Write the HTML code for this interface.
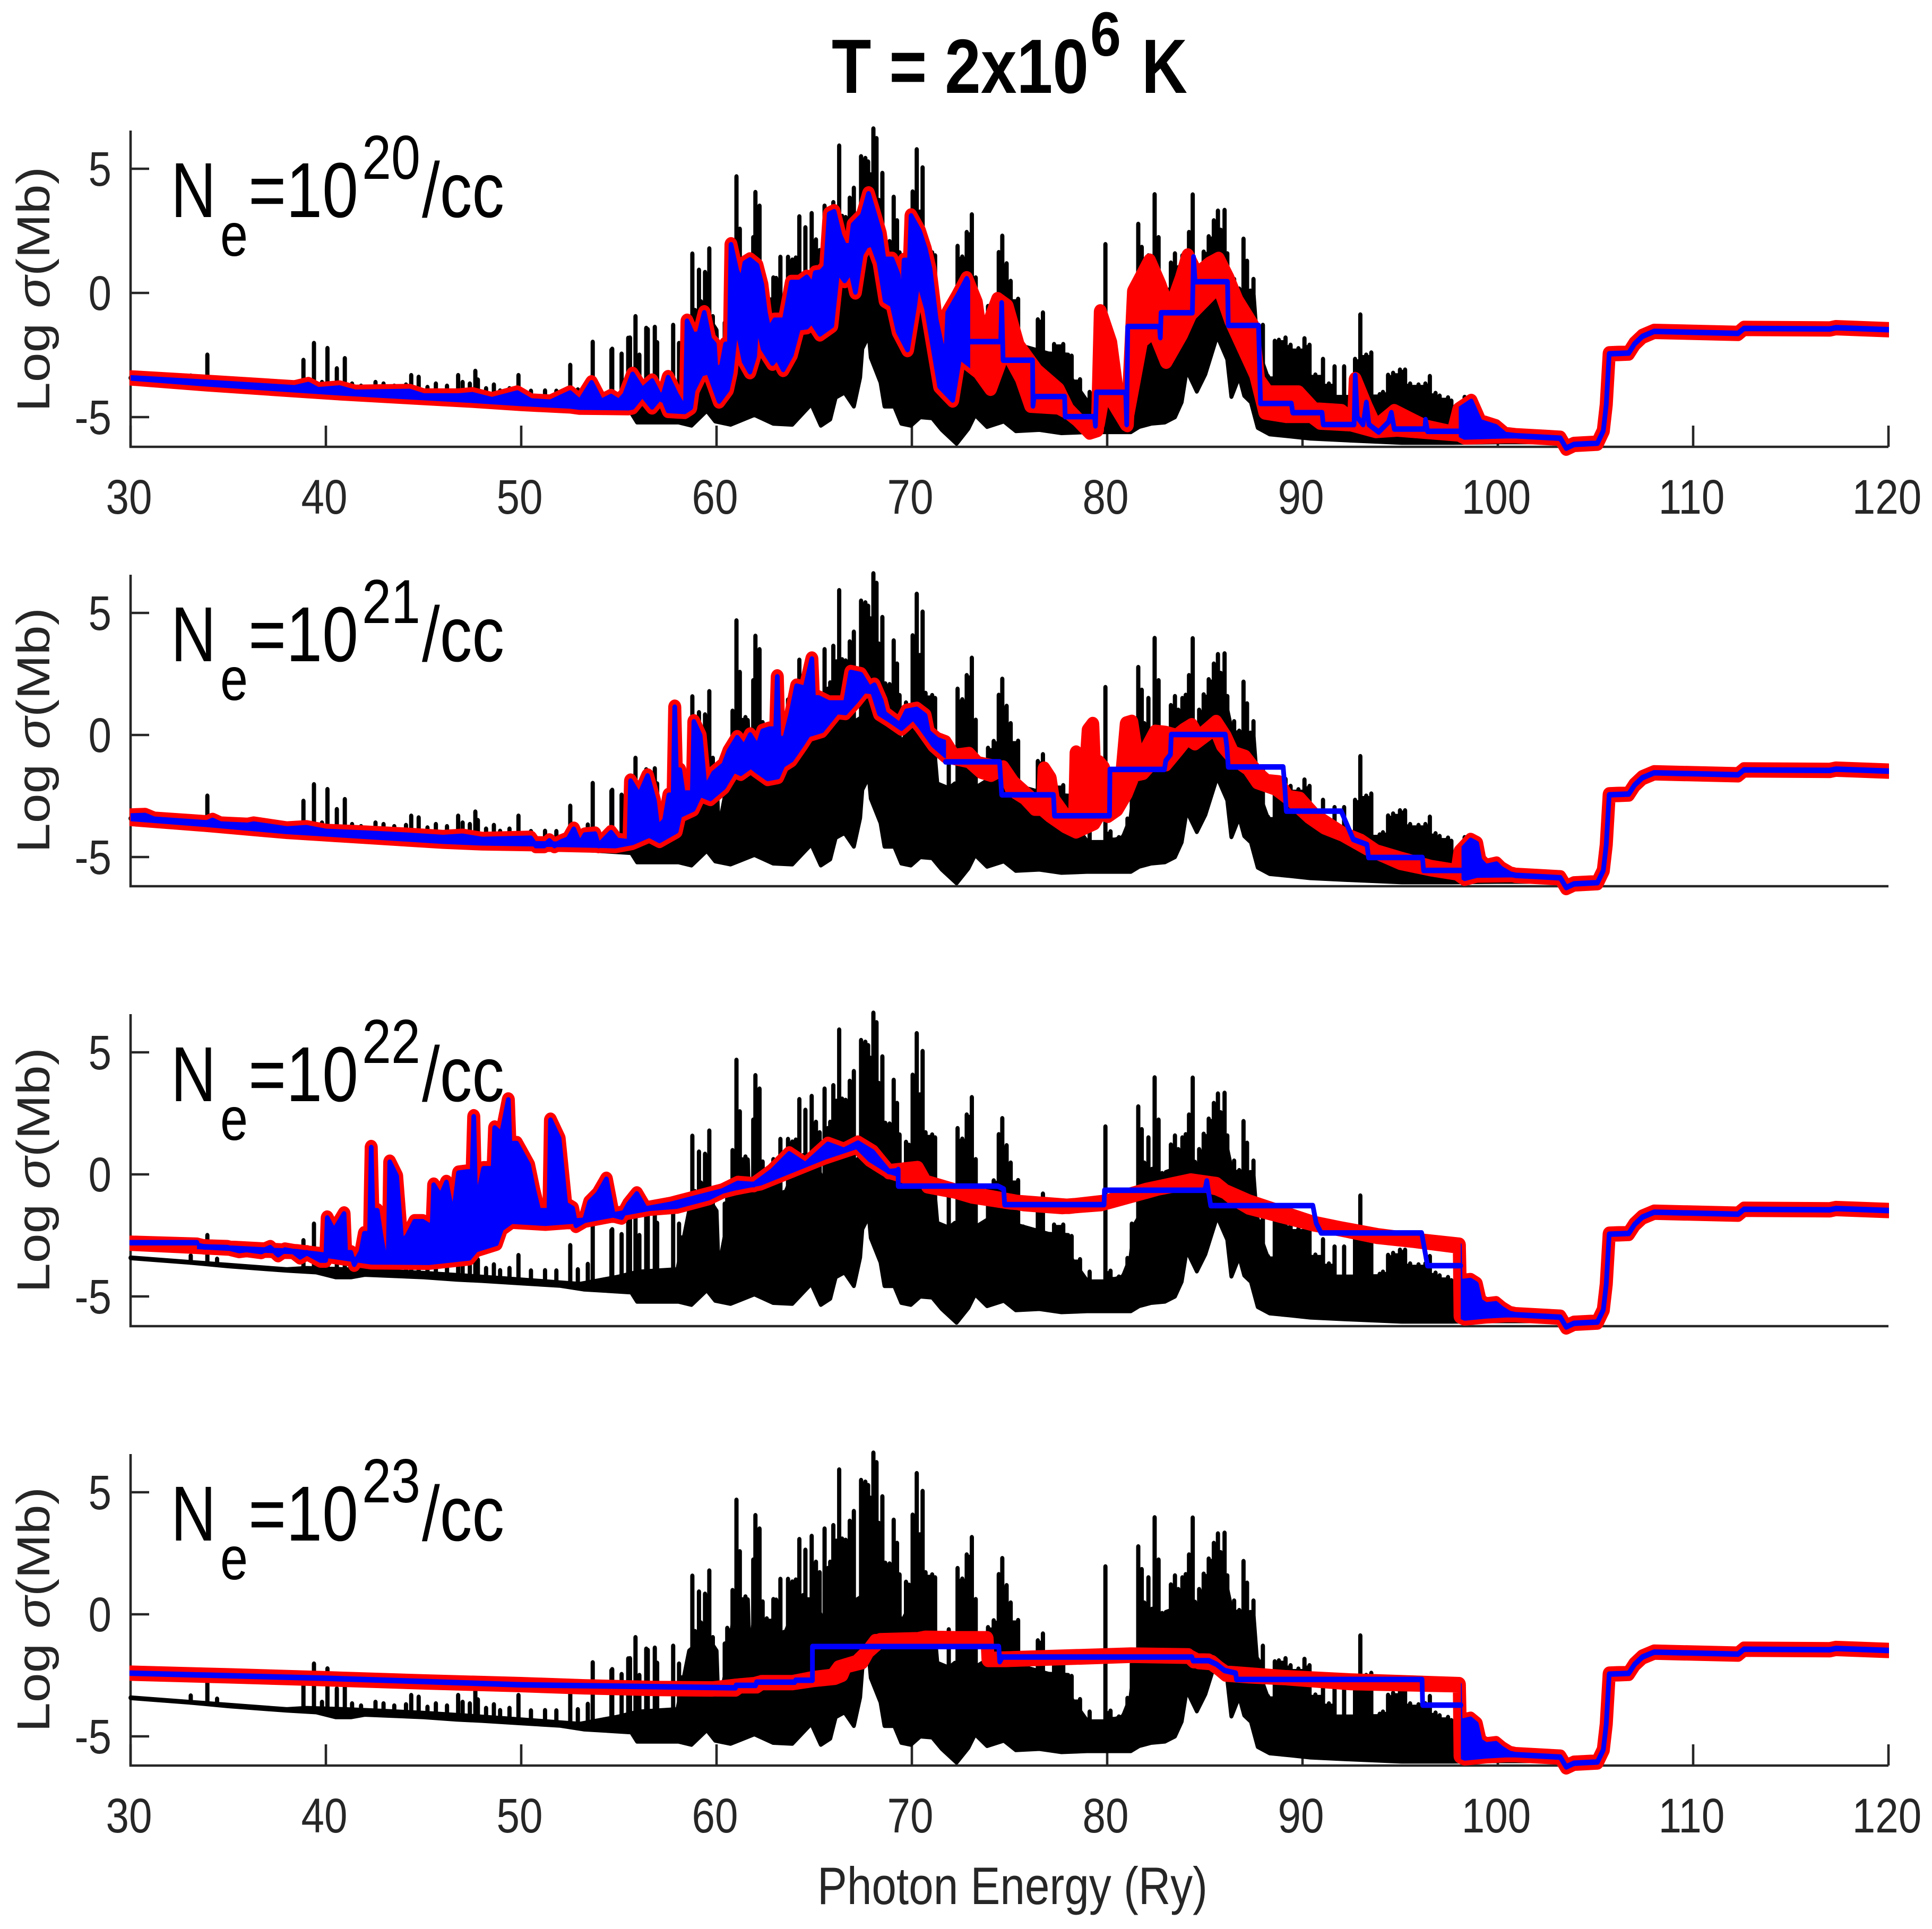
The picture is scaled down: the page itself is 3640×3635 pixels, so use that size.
<!DOCTYPE html>
<html lang="en">
<head>
<meta charset="utf-8">
<title>T = 2x10^6 K opacity spectra</title>
<style>
html,body{margin:0;padding:0;background:#fff;}
svg{display:block;font-family:"Liberation Sans",sans-serif;}
.ann{fill:#000;}
.tick{fill:#262626;font-size:92px;}
.ylab{fill:#262626;font-size:87px;}
</style>
</head>
<body>
<svg id="chart" xmlns="http://www.w3.org/2000/svg" width="3640" height="3635" viewBox="0 0 3640 3635">
<rect width="3640" height="3635" fill="#fff"/>
<g id="plots"></g>
<g font-weight="bold" fill="#000">
<text x="1567" y="175" font-size="145" textLength="484" lengthAdjust="spacingAndGlyphs">T = 2x10</text>
<text x="2054" y="105" font-size="118" textLength="58" lengthAdjust="spacingAndGlyphs">6</text>
<text x="2151" y="175" font-size="145" textLength="86" lengthAdjust="spacingAndGlyphs">K</text>
</g>
<g class="ann">
<text x="322" y="409" font-size="147" textLength="85" lengthAdjust="spacingAndGlyphs">N</text><text x="415" y="482" font-size="115" textLength="52" lengthAdjust="spacingAndGlyphs">e</text><text x="468" y="409" font-size="147" textLength="207" lengthAdjust="spacingAndGlyphs">=10</text><text x="682" y="337" font-size="117" textLength="110" lengthAdjust="spacingAndGlyphs">20</text><text x="795" y="409" font-size="147" textLength="155" lengthAdjust="spacingAndGlyphs">/cc</text>
</g>
<g class="ann">
<text x="322" y="1246" font-size="147" textLength="85" lengthAdjust="spacingAndGlyphs">N</text><text x="415" y="1319" font-size="115" textLength="52" lengthAdjust="spacingAndGlyphs">e</text><text x="468" y="1246" font-size="147" textLength="207" lengthAdjust="spacingAndGlyphs">=10</text><text x="682" y="1174" font-size="117" textLength="110" lengthAdjust="spacingAndGlyphs">21</text><text x="795" y="1246" font-size="147" textLength="155" lengthAdjust="spacingAndGlyphs">/cc</text>
</g>
<g class="ann">
<text x="322" y="2075" font-size="147" textLength="85" lengthAdjust="spacingAndGlyphs">N</text><text x="415" y="2148" font-size="115" textLength="52" lengthAdjust="spacingAndGlyphs">e</text><text x="468" y="2075" font-size="147" textLength="207" lengthAdjust="spacingAndGlyphs">=10</text><text x="682" y="2003" font-size="117" textLength="110" lengthAdjust="spacingAndGlyphs">22</text><text x="795" y="2075" font-size="147" textLength="155" lengthAdjust="spacingAndGlyphs">/cc</text>
</g>
<g class="ann">
<text x="322" y="2903" font-size="147" textLength="85" lengthAdjust="spacingAndGlyphs">N</text><text x="415" y="2976" font-size="115" textLength="52" lengthAdjust="spacingAndGlyphs">e</text><text x="468" y="2903" font-size="147" textLength="207" lengthAdjust="spacingAndGlyphs">=10</text><text x="682" y="2831" font-size="117" textLength="110" lengthAdjust="spacingAndGlyphs">23</text><text x="795" y="2903" font-size="147" textLength="155" lengthAdjust="spacingAndGlyphs">/cc</text>
</g>
<text x="1540" y="3588" font-size="99" fill="#262626" textLength="735" lengthAdjust="spacingAndGlyphs">Photon Energy (Ry)</text>
<g class="ylab"><text transform="translate(93,776) rotate(-90)" textLength="462" lengthAdjust="spacingAndGlyphs">Log <tspan font-style="italic">σ</tspan>(Mb)</text></g>
<g class="ylab"><text transform="translate(93,1607) rotate(-90)" textLength="462" lengthAdjust="spacingAndGlyphs">Log <tspan font-style="italic">σ</tspan>(Mb)</text></g>
<g class="ylab"><text transform="translate(93,2436) rotate(-90)" textLength="462" lengthAdjust="spacingAndGlyphs">Log <tspan font-style="italic">σ</tspan>(Mb)</text></g>
<g class="ylab"><text transform="translate(93,3264) rotate(-90)" textLength="462" lengthAdjust="spacingAndGlyphs">Log <tspan font-style="italic">σ</tspan>(Mb)</text></g>
</svg>
<script>
// ---- axis tick values ----
const energyTicks = [30,40,50,60,70,80,90,100,110,120];
const logTicks = [5,0,-5];

// ---- shared black spectrum: spike peaks ----
const spikeE = [33.08,33.93,34.43,38.85,39.39,39.8,40.08,40.56,40.97,41.34,41.8,42.54,42.95,43.5,44.1,44.37,44.75,45.2,45.63,46.2,46.77,47,47.37,47.65,47.78,48.2,48.6,48.92,49.4,49.86,50.5,51.22,51.8,52.51,52.9,53.41,53.66,54.62,54.66,55.14,55.48,55.57,55.85,56.05,56.4,56.48,56.84,56.96,57.78,58.08,58.54,58.76,58.9,59.1,59.2,59.41,59.63,59.81,59.93,60.42,60.55,60.82,61.02,61.19,61.31,61.48,61.7,61.88,61.99,62.2,62.36,62.57,62.91,63.05,63.27,63.45,63.66,63.88,64.06,64.24,64.43,64.55,64.67,64.87,65.09,65.28,65.4,65.53,65.7,65.82,65.98,66.13,66.28,66.43,66.61,66.82,67.03,67.16,67.4,67.62,67.76,67.88,68.03,68.19,68.31,68.49,68.64,68.86,69.07,69.24,69.37,69.46,69.7,69.85,70.04,70.25,70.41,70.55,70.7,71.04,71.19,71.4,71.89,72.13,72.34,72.58,72.81,73.07,73.27,73.9,74.19,74.45,74.63,74.85,75.06,75.44,75.7,76.45,76.71,76.97,77.28,77.75,78.18,78.61,79.1,79.39,79.91,80.17,80.6,81.04,81.26,81.59,81.77,81.9,82.11,82.29,82.43,82.63,82.81,83.03,83.26,83.47,83.64,83.85,84.02,84.19,84.38,84.59,84.71,84.94,85.2,85.46,85.67,85.81,86.01,86.15,86.38,86.5,86.76,86.98,87.16,87.33,87.49,87.71,87.97,88.23,88.58,88.79,89.13,89.39,89.79,90.1,90.36,90.66,91.05,91.35,91.64,92.13,92.69,92.96,93.26,93.52,93.95,94.12,94.38,94.64,94.99,95.25,95.51,95.94,96.29,96.52,96.81,97.02,97.45,97.62,97.76,98.3,98.7];
const spikeV = [-3.34,-2.5,-3.47,-2.71,-2.03,-3.6,-2.23,-3.05,-2.64,-3.66,-3.75,-3.6,-3.66,-3.75,-3.7,-3.32,-3.39,-3.8,-3.66,-3.75,-3.32,-3.6,-3.66,-3.15,-3.5,-3.85,-3.7,-3.94,-3.85,-3.32,-3.95,-3.94,-3.95,-2.91,-3.9,-3.68,-1.98,-2.3,-2.26,-2.46,-1.82,-1.81,-.95,-2.5,-1.42,-1.47,-1.38,-2,-1.3,-2.03,-2.5,1.57,-.7,.92,-.35,.83,1.78,-.95,-1.72,-1.21,-.57,.98,4.68,2.57,.5,.72,-2.03,2.23,4.05,3.5,.51,-.18,.61,.59,1.44,-.74,1.44,1.33,1.41,3.07,.77,2.63,.6,3.2,2.14,1.71,-.35,3.5,1.88,2.14,3.64,3,5.92,3.09,3.04,3.82,4.22,.42,5.49,5.42,5.28,4.76,6.61,6.22,3.73,4.82,2.1,2.07,3.86,2.91,1.62,-.27,1.32,1.2,4.07,5.77,3.26,5.04,1.71,1.62,1.5,-2.11,-.63,-2.11,1.88,1.45,2.44,3.15,.61,-.54,-.26,1.63,2.29,1.18,.47,-.25,-2.15,-1.08,-.8,-2.5,-2.07,-2.07,-2.54,-3.49,-4,-4.56,1.95,-3.96,-4.2,-3.44,-2.03,2.77,1.84,.47,1.5,.21,3.96,2.23,.04,-.35,1.21,1.58,1.02,1.5,1.63,2.44,3.95,-.95,1.02,1.65,2.27,2.91,3.3,2.53,3.33,1.58,.08,.55,.16,2.17,1.28,.08,.55,-1.85,-1.3,-3.36,-1.94,-1.9,-1.81,-2.1,-2.24,-1.84,-2.1,-3.3,-2.67,-3.66,-2.97,-2.97,-2.67,-.88,-2.5,-2.41,-4.09,-4,-3.31,-3.23,-3.1,-3.1,-3.66,-3.7,-3.66,-3.36,-4.04,-4.15,-4.22,-4.35,-4.9,-4.2,-4.4];

// ---- shared black spectrum: solid body top edge ----
const shoulderE = [30,33,38,39,41,43,45,47,50,53,55,56,58,58.6,59.5,60,60.1,60.5,61,61.6,61.7,61.9,62.5,63.5,64.2,65,65.5,66,67,68,69,69.5,70,71,71.3,71.9,72.2,73.4,74,75,77,78,78.2,79,80,80.8,81.2,81.4,83,84.5,84.7,85,85.5,86,86.4,87,87.5,87.7,88.2,89,90,91,92,93,94,95,96,97,97.8,98,100,103];
const shoulderV = [-3.42,-3.6,-3.9,-3.85,-3.9,-3.97,-4.05,-4.15,-4.32,-4.5,-4.2,-4,-3.9,-1.5,-.9,-1.5,-3.9,-2.2,.6,.6,-1.9,-.2,-.8,-.8,.6,.6,-.35,.5,.5,1,.5,-.3,.5,.8,-2,-2.2,-2,-2.1,-1.8,-2,-2.45,-2.5,-3.5,-4.4,-4.4,-4.2,-3.4,-2.07,.08,.5,-.9,1.2,2.3,1.6,.08,.1,-.1,-2.24,-3.36,-4,-4,-4.2,-4.2,-4.2,-4.3,-4,-4,-4.56,-5.25,-5.8,-5.8,-5.9];

// ---- shared black spectrum: lower envelope ----
const floorE = [30,33,35,38,39.5,40.5,41.3,42,45,46.7,48,50,52,53.2,55.63,55.93,58.05,58.72,59.5,59.93,60.72,61.94,62.9,63.88,64.85,65.34,65.82,66.1,66.55,67.03,67.35,67.46,67.8,67.9,68.1,68.4,68.6,69.1,69.46,69.95,70.43,71.04,71.53,72.29,72.89,73.24,73.85,74.71,75.32,76.53,77.66,78.96,81.21,81.64,82.25,82.95,83.47,83.81,84.07,84.59,85.02,85.63,86.15,86.36,86.76,87.02,87.36,87.71,88.32,89.36,90.4,92.48,95.08,97.68,100,103];
const floorV = [-3.42,-3.6,-3.75,-3.93,-4,-4.2,-4.2,-4.1,-4.2,-4.3,-4.35,-4.45,-4.55,-4.7,-4.82,-5.2,-5.2,-5.33,-4.73,-5.16,-5.29,-4.9,-5.25,-5.29,-4.47,-5.33,-5.08,-4.2,-4,-4.56,-3.4,-2.24,-1.7,-2.6,-3,-3.6,-4.56,-4.56,-5.25,-5.33,-4.99,-5.03,-5.5,-6.06,-5.46,-4.9,-5.38,-5.16,-5.55,-5.5,-5.63,-5.59,-5.59,-5.38,-5.25,-5.2,-4.99,-4.39,-3.1,-3.96,-3.27,-1.72,-2.67,-4.17,-3.36,-4.13,-4.39,-5.42,-5.68,-5.76,-5.85,-5.93,-6.02,-6.02,-6,-6];

// ---- shared flat tail of the red/blue curves ----
const tailE = [100.9,103.2,103.5,103.9,105.1,105.4,105.55,105.7,106.7,107,107.4,108,112.3,112.6,117,117.3,120];
const tailV = [-5.75,-5.85,-6.25,-6.1,-6.05,-5.55,-4.5,-2.45,-2.42,-2.05,-1.75,-1.55,-1.63,-1.43,-1.45,-1.4,-1.48];

// ---- Ne = 1e20 ----
const p1TopE = [30,33.9,38.4,39.1,39.6,40.7,41.5,44.3,45,46.8,47.5,48.5,49.8,50.5,51.5,52.5,53,53.6,54.1,54.6,55,55.3,55.7,56.2,56.7,57.2,57.52,57.95,58.25,58.49,58.8,59.1,59.37,59.65,59.89,59.97,60.25,60.46,60.74,61.04,61.28,61.45,61.71,62.07,62.32,62.5,62.68,62.98,63.47,63.83,64.26,64.62,64.93,65.05,65.35,65.59,65.77,66.02,66.32,66.56,66.87,66.99,67.47,67.78,68.08,68.38,68.57,68.99,69.3,69.48,69.6,69.96,70.39,70.69,70.93,71.24,71.72,71.84,72.33,72.81,73.3,73.6,74.09,74.39,74.88,75.45,76.4,77.5,78,79.1,79.5,79.65,80.18,80.5,81.03,81.35,82.17,82.7,83.18,83.8,84.13,84.6,85.23,85.7,86.18,86.65,87.44,87.75,88.23,89.8,90.6,92,92.5,92.7,93.27,93.75,94.7,95.5,96.27,97.7,98,98.64,99.1,99.9,100.37];
const p1TopV = [-3.42,-3.6,-3.82,-3.69,-3.9,-3.83,-4,-3.97,-4.15,-4.15,-4.1,-4.3,-4.03,-4.35,-4.4,-4.03,-4.37,-3.62,-4.37,-4.17,-4.37,-4.1,-3.28,-3.9,-3.55,-4.3,-3.41,-4.1,-4.5,-1.14,-1.69,-1.65,-.8,-1.86,-2.07,-3.08,-2.96,-2.07,1.94,.88,.47,1.2,1.33,1.1,.34,-.8,-1.48,-1.1,-1.1,.42,.42,.63,.29,.8,.84,1.05,3.17,3.27,2.32,1.9,1.9,2.74,3.12,3.99,3.21,2.4,1.35,1.35,.72,-1.14,1.31,3.1,2.49,1.77,.97,-1.06,-2.83,-.8,-.13,.57,-.38,-2.07,-.9,-.27,-.55,-2.12,-3.15,-3.9,-4.7,-5.6,-5.5,-.76,-2,-3.9,-5.3,.06,1.28,.33,-.76,.6,1.49,.74,1.15,1.35,.6,-.3,-1.3,-3.49,-4.03,-4.03,-4.71,-4.78,-5.1,-3.49,-4.58,-5.4,-4.78,-5.1,-5.4,-5.65,-4.71,-4.37,-5.19,-5.39,-5.7];
const p1BotE = [30,33.9,38.4,40.7,44.3,47.5,50,52.5,53,55.5,55.7,56.2,56.7,57.2,57.52,58.37,58.68,58.8,59.22,59.59,60.13,60.56,60.75,61.02,61.41,61.71,61.95,62.07,62.38,62.86,63.1,63.41,63.83,64.2,64.62,64.87,65.29,65.9,66.2,66.56,66.87,67.11,67.41,67.66,67.96,68.32,68.63,68.99,69.3,69.78,70.14,70.32,70.75,71.42,72.09,72.45,73.42,74.03,74.5,74.66,75.6,76.08,77.5,78,78.76,79.55,79.87,80.97,81.76,82.39,83.02,83.81,84.28,85.7,86.33,87.6,88.07,89.17,90.44,90.9,92.49,93.75,94.85,98,98.3,100.37];
const p1BotV = [-3.42,-3.66,-3.9,-4.02,-4.18,-4.32,-4.45,-4.55,-4.6,-4.62,-4.59,-4.1,-4.59,-4.11,-4.73,-4.77,-4.61,-3.93,-3.25,-3.17,-4.35,-3.89,-3.2,-1.27,-2.75,-3.17,-2.55,-1.14,-2.24,-2.83,-2.6,-3.08,-2.49,-1.4,-1.36,-1.14,-1.65,-1.31,.88,.5,.88,.04,1.56,1.9,1.98,1.22,-.3,-.47,-1.56,-2.28,-.55,.55,-.63,-3.76,-4.31,-2.58,-3.17,-3.84,-2.83,-2.07,-3.43,-4.52,-4.59,-4.79,-5.27,-5.27,-3.84,-5.27,-1.93,-1.52,-2.75,-1.66,-.84,.3,-1.12,-3.3,-4.79,-4.93,-4.93,-5.2,-5.27,-5.54,-5.48,-5.68,-5.8,-5.75];
const p1StairE = [72.96,74.55,74.6,74.67,76.18,76.2,76.26,77.82,77.85,79.35,79.4,79.45,80.95,81,81.05,82.68,82.72,82.76,84.36,84.42,84.5,86.16,86.2,87.75,87.85,89.43,89.5,91,91.06,92.64,92.7,92.8,93.1,93.27,93.4,93.9,94.4,94.55,94.7,96.27,96.3,96.4,98];
const p1StairV = [-1.96,-1.96,-.4,-2.71,-2.71,-4.55,-4.17,-4.17,-4.98,-4.98,-5.35,-4,-4,-5.3,-1.35,-1.35,-1.8,-.8,-.8,1.45,.45,.45,-1.31,-1.31,-4.45,-4.45,-4.82,-4.82,-5.3,-5.3,-3.32,-5,-5.3,-4.41,-5.3,-5.6,-5.2,-4.82,-5.48,-5.48,-5.1,-5.57,-5.57];
const p1DenseFrom = [30,98];
const p1DenseTo = [72.96,120];

// ---- Ne = 1e21 ----
const p2TopE = [30,30.75,31.2,33.9,34.2,34.6,36,36.3,38,39,40,42,44,46,47,48,50.49,50.75,51.18,51.44,51.7,52.05,52.4,52.69,53,53.26,53.78,53.96,54.6,54.91,55.34,55.6,56.04,56.47,56.82,56.99,57.34,57.56,57.86,58.12,58.29,58.6,58.84,59.16,59.42,59.85,60.37,60.63,61.06,61.41,61.72,62.1,62.36,62.71,63.11,63.49,63.8,64.1,64.53,64.88,65.22,65.74,66.17,66.6,66.87,67.39,67.82,68.08,68.43,68.6,69.38,69.73,70.25,70.68,70.85,71.29,71.72,72.16,72.93,73.37,74.67,75.1,75.79,76.3,76.77,77.08,77.24,78.1,78.41,78.72,78.87,79.03,79.26,79.58,79.81,79.97,80.75,80.98,81.26,81.53,82,82.46,83.01,83.55,83.94,84.33,84.68,85.58,86.05,86.44,87.06,87.69,88.16,88.78,89.25,89.87,90.65,92.06,92.99,93.77,95.02,96.58,97.91,98.06,98.61,98.92,99.08,99.39,99.93,100.17,100.64];
const p2TopV = [-3.32,-3.3,-3.45,-3.6,-3.5,-3.65,-3.7,-3.65,-3.85,-3.8,-3.95,-4.02,-4.1,-4.2,-4.15,-4.28,-4.23,-4.53,-4.53,-4.34,-4.53,-4.38,-4.27,-3.86,-4.45,-4.1,-4.06,-4.53,-4,-4.32,-4.36,-1.89,-2.47,-1.68,-2.69,-3.8,-3.5,-2.47,1.14,-1.44,-2.38,-2.38,.54,-.02,-2.21,-1.57,-1.22,-.67,-.11,-.49,0,-.49,.15,.24,2.38,-.15,.84,2,1.91,3.11,1.52,1.31,1.31,1.31,2.56,2.47,1.91,2.04,1.4,.88,.41,.97,1.05,.79,.11,-.19,-.32,-.88,-.8,-1.18,-1.4,-2.21,-2.56,-3,-1.4,-1.78,-2.64,-3.6,-.74,-1.7,-1.78,.19,.43,-1.14,-1.35,-2.04,-1.61,.45,.52,-.92,-.58,.11,.06,-.06,.19,.38,-.11,.51,-.07,-.75,-.92,-1.57,-1.91,-1.96,-2.56,-2.64,-3.33,-4.06,-4.36,-4.79,-5.09,-5.43,-5.6,-4.79,-4.32,-4.45,-5.13,-5.39,-5.29,-5.48,-5.7];
const p2BotE = [30,33.9,38,40,42,44,46,48,50.49,54.82,55.69,56.56,57.08,57.94,58.12,58.81,59.16,59.68,60.37,60.89,61.24,61.76,62.02,62.62,63.14,63.4,63.83,64.35,64.7,65.39,65.74,66.17,66.6,67.13,67.56,67.99,68.34,68.86,69.47,70.07,70.42,71.11,71.72,72.24,72.93,73.54,74.06,74.67,75.19,76.14,77.08,77.86,78.41,78.87,79.34,79.65,80.04,80.51,80.98,81.37,81.84,82.23,83.01,83.63,84.1,84.49,85.19,85.5,85.89,86.44,87.22,87.69,88.62,89.4,90.34,91.12,92.06,93.3,95.02,96.58,97.91,98.3,98.92,100.76];
const p2BotV = [-3.42,-3.66,-3.95,-4.05,-4.15,-4.25,-4.35,-4.42,-4.45,-4.53,-4.4,-4.1,-4.32,-3.93,-3.29,-3.03,-2.43,-2.6,-2.13,-1.44,-1.57,-1.27,-1.44,-1.78,-1.7,-1.23,-1.01,-.41,.02,.19,.53,.96,.92,1.39,1.82,1.78,.88,.62,.28,.71,.36,-.41,-.84,-.93,-1.05,-1.48,-1.61,-1.35,-1.96,-2.64,-3.29,-3.72,-3.93,-3.76,-3.59,-3.16,-3.29,-3.03,-2.39,-1.61,-1.53,-1.18,-1.18,-.58,-.11,-.32,.1,.36,-.41,-.93,-1.36,-1.91,-2.17,-2.64,-3.33,-3.76,-4.06,-4.62,-5.22,-5.48,-5.65,-5.87,-5.74,-5.72];
const p2StairE = [71.72,74.49,74.6,77.25,77.3,80.12,80.14,82.93,83,83.24,83.28,86.05,86.13,86.2,89.01,89.1,89.17,91.98,92.6,93.3,93.38,96.14,96.2,98.14];
const p2StairV = [-1.1,-1.1,-2.45,-2.45,-3.31,-3.31,-1.41,-1.41,-1.05,-.8,.02,.02,-.5,-1.31,-1.31,-2.21,-3.12,-3.12,-4.28,-4.49,-5.02,-5.02,-5.55,-5.55];
const p2DenseFrom = [30,98.14];
const p2DenseTo = [71.72,120];

// ---- Ne = 1e22 ----
const p3TopE = [30,33.4,33.74,34.95,35.56,35.94,36.69,37.15,37.55,37.9,38.33,38.68,39.03,39.72,40.07,40.41,40.93,41.28,41.45,41.8,41.97,42.32,42.63,42.84,43.05,43.27,43.62,43.88,44.14,44.54,44.95,45.26,45.52,45.87,46.17,46.51,46.79,47.26,47.57,47.87,48.07,48.64,48.99,49.34,49.77,50.38,50.64,50.9,51.5,51.94,52.28,52.63,52.8,53.24,53.5,53.93,54.36,54.71,55.14,55.49,55.92,56.36,57.97,59.61,61.09,61.91,62.84,63.72,64.55,65.7,66.52,67.24,68,68.82,70.3,70.8,73.4,75.73,77.7,79.68,81.98,84.28,85.6,86.42,87.25,90.53,93.82,98.03,98.07,98.6,98.9,99.1,99.4,99.9,100.2,100.6];
const p3TopV = [-2.82,-2.9,-2.97,-3,-3.12,-3.08,-3.16,-3,-3.29,-3.1,-3.16,-3.38,-3.21,-3.51,-1.79,-2.31,-1.62,-3.21,-3.68,-3.16,-2.43,1.1,-1.49,-2.61,-3.55,.5,-.07,-2.74,-2.56,-1.94,-1.94,-2.09,-.44,-.89,-.33,-1.75,.05,.1,2.36,-.54,.23,1.9,1.65,3.05,1.26,.38,-.63,-1.49,2.22,1.47,-1.23,-1.4,-2.09,-1.88,-1.15,-.8,-.2,-1.66,-1.75,-1.23,-.8,-1.4,-1.3,-.95,-.37,-.42,.13,.84,.4,1.23,.99,1.28,.91,.11,.24,-.47,-.86,-1.2,-1.32,-1.2,-.66,-.27,-.42,-.95,-1.34,-2.02,-2.51,-2.94,-4.4,-4.35,-4.5,-5.2,-5.35,-5.3,-5.5,-5.7];
const p3BotE = [30,33.4,38.5,40.24,42.32,45.26,47.34,47.69,48.73,48.99,49.51,51.24,53.24,54.35,57.64,60.93,62.24,65.53,67.18,67.84,68.82,70.8,73.1,75.07,78.03,80,82.64,84.28,85.6,87.25,90.53,93.82,98.03,98.07,98.3,99.35,100.4];
const p3BotV = [-2.82,-2.95,-3.17,-3.34,-3.58,-3.6,-3.42,-3.08,-2.82,-2.22,-1.92,-2,-1.88,-1.71,-1.23,-.55,-.35,.71,1.15,.62,.13,-.35,-.89,-1.13,-1.31,-1.13,-.55,-.3,-.55,-1.13,-2,-2.54,-2.9,-5.8,-5.88,-5.8,-5.75];
const p3StairE = [30,33.4,null,69.3,69.3,74.4,74.7,74.75,79.84,79.86,85,85.1,85.3,90.53,90.7,90.95,96.1,96.4,98.1];
const p3StairV = [-2.8,-2.8,null,.2,-.48,-.48,-.6,-1.24,-1.24,-.65,-.65,-.27,-1.28,-1.28,-2,-2.4,-2.4,-3.74,-3.74];
const p3DenseFrom = [33.4,98.1];
const p3DenseTo = [69.3,120];

// ---- Ne = 1e23 ----
const p4TopE = [30,35,40,45,50,53.2,56.84,59.75,60.97,61.94,62.3,63.88,64.97,65.94,66.25,67.16,67.76,68.13,70.07,70.68,72.23,73.85,73.9,74.8,81.21,84.16,84.68,85.37,86.07,87.28,92.48,98.03,98.07,98.6,98.9,99.1,99.4,99.9,100.2,100.6];
const p4TopV = [-2.41,-2.52,-2.64,-2.77,-2.88,-2.97,-3.04,-3.06,-2.95,-2.88,-2.8,-2.8,-2.63,-2.54,-2.2,-1.98,-1.51,-1.12,-1.08,-.98,-1,-1.04,-1.85,-1.85,-1.68,-1.72,-1.94,-1.98,-2.45,-2.52,-2.73,-2.88,-4.4,-4.3,-4.5,-5.2,-5.35,-5.3,-5.5,-5.7];
const p4BotE = [30,35,40,45,50,53.2,56.84,60.97,61.2,62.06,62.3,63.88,64.97,66.06,66.43,66.61,67.46,67.76,68.37,72.23,73.85,73.9,81.21,84.16,84.42,85.2,86.07,92.48,98.03,98.07,98.3,99.35,100.4];
const p4BotV = [-2.41,-2.52,-2.64,-2.77,-2.88,-2.97,-3.04,-3.06,-2.93,-2.93,-2.8,-2.8,-2.67,-2.58,-2.46,-2.11,-1.94,-1.51,-1.08,-1,-1,-1.85,-1.67,-1.7,-1.9,-1.92,-2.41,-2.8,-2.89,-5.8,-5.88,-5.8,-5.75];
const p4StairE = [30,40,50,60.97,61,62,62.05,64,64.05,64.91,64.91,74.45,74.5,74.63,84.33,84.4,85.2,85.6,86,86.58,86.62,96.12,96.15,98.11];
const p4StairV = [-2.41,-2.62,-2.89,-3.01,-2.91,-2.91,-2.78,-2.78,-2.7,-2.7,-1.32,-1.32,-1.94,-1.75,-1.75,-1.9,-1.9,-2.05,-2.3,-2.41,-2.67,-2.67,-3.72,-3.72];
const p4DenseFrom = [98.11];
const p4DenseTo = [120];

// ---- layout ----
const SVGNS = 'http://www.w3.org/2000/svg';
const AXL = 246, AXR = 3558, ASPECT = 0.85;
const frames = [
  {top:246,bottom:842,zero:552,unit:46.8,xt:true,topE:p1TopE,topV:p1TopV,botE:p1BotE,botV:p1BotV,stE:p1StairE,stV:p1StairV,dF:p1DenseFrom,dT:p1DenseTo},
  {top:1083,bottom:1670,zero:1385,unit:46,xt:false,topE:p2TopE,topV:p2TopV,botE:p2BotE,botV:p2BotV,stE:p2StairE,stV:p2StairV,dF:p2DenseFrom,dT:p2DenseTo},
  {top:1911,bottom:2499,zero:2213,unit:46,xt:false,topE:p3TopE,topV:p3TopV,botE:p3BotE,botV:p3BotV,stE:p3StairE,stV:p3StairV,dF:p3DenseFrom,dT:p3DenseTo},
  {top:2740,bottom:3327,zero:3042,unit:46,xt:true,topE:p4TopE,topV:p4TopV,botE:p4BotE,botV:p4BotV,stE:p4StairE,stV:p4StairV,dF:p4DenseFrom,dT:p4DenseTo}
];
const xScale = e => AXL + (e - 30) * (AXR - AXL) / 90;
const fmt = n => n.toFixed(1);
const sx = e => fmt(xScale(e) / ASPECT);
function lookup(xs, ys, e) {
  if (e <= xs[0]) return ys[0];
  for (let i = 1; i < xs.length; i++) {
    if (e <= xs[i]) { const t = (e - xs[i-1]) / ((xs[i] - xs[i-1]) || 1); return ys[i-1] + t * (ys[i] - ys[i-1]); }
  }
  return ys[ys.length - 1];
}
function mk(tag, attrs, parent) {
  const el = document.createElementNS(SVGNS, tag);
  for (const k in attrs) el.setAttribute(k, attrs[k]);
  parent.appendChild(el);
  return el;
}
// sharpen narrow peaks: a prominent local maximum gets steep sides
function sharpen(es, vs) {
  const oe = [], ov = [];
  es.forEach((e, i) => {
    const v = vs[i];
    const isMax = i > 0 && i < es.length - 1 && v > vs[i-1] && v > vs[i+1];
    if (isMax && v - vs[i-1] > 1.5 && e - es[i-1] > 0.2) { oe.push(e - 0.08); ov.push(vs[i-1]); }
    oe.push(e); ov.push(v);
    if (isMax && v - vs[i+1] > 1.5 && es[i+1] - e > 0.2) { oe.push(e + 0.08); ov.push(vs[i+1]); }
  });
  return [oe, ov];
}

const root = document.getElementById('plots');
const defs = mk('defs', {}, root);
const spikeOrder = spikeE.map((e, i) => i).sort((a, b) => spikeE[a] - spikeE[b]);

frames.forEach((f, idx) => {
  const yScale = v => f.zero - v * f.unit;
  const g = mk('g', {}, root);
  
  

  // axes
  const axisPath = mk('path', {d:`M${AXL} ${f.top}V${f.bottom}H${AXR}`, fill:'none', stroke:'#262626', 'stroke-width':4.6}, g);
  
  

  logTicks.forEach(t => {
    const y = yScale(t);
    const tk = mk('path', {d:`M${AXL} ${fmt(y)}h35`, stroke:'#262626', 'stroke-width':4.6}, g);
    
    
    const lb = mk('text', {class:'tick', 'text-anchor':'end', transform:`translate(210,${fmt(y + 32)}) scale(0.85,1)`}, g);
    
    
    lb.textContent = String(t);
  });
  if (f.xt) {
    energyTicks.forEach(t => {
      const x = xScale(t);
      const tk = mk('path', {d:`M${fmt(x)} ${f.bottom}v-40`, stroke:'#262626', 'stroke-width':4.6}, g);
      
      
      const lb = mk('text', {class:'tick', 'text-anchor':'middle', transform:`translate(${fmt(x - 3)},${f.bottom + 126}) scale(0.85,1)`}, g);
      
      
      lb.textContent = String(t);
    });
  }

  // black spectrum body + spikes
  const blackG = mk('g', {transform:`scale(${ASPECT},1)`}, g);
  
  
  let body = 'M' + shoulderE.map((e, i) => sx(e) + ' ' + fmt(yScale(shoulderV[i]))).join('L');
  for (let i = floorE.length - 1; i >= 0; i--) body += 'L' + sx(floorE[i]) + ' ' + fmt(yScale(floorV[i]));
  mk('path', {d:body + 'Z', fill:'#000', stroke:'#000', 'stroke-width':9, 'stroke-linejoin':'round'}, blackG);
  let sp = '', fillD = '';
  spikeOrder.forEach((idxS, k) => {
    const e = spikeE[idxS], v = spikeV[idxS];
    const base = lookup(shoulderE, shoulderV, e);
    sp += 'M' + sx(e) + ' ' + fmt(yScale(v)) + 'V' + fmt(yScale(Math.min(base, v)));
    if (k < spikeOrder.length - 1) {
      const nIdx = spikeOrder[k + 1], ne = spikeE[nIdx], nv = spikeV[nIdx];
      const limit = e < 58 ? 0.2 : 0.48;
      if (ne - e < limit) {
        const level = Math.min(v, nv);
        const b1 = lookup(shoulderE, shoulderV, e), b2 = lookup(shoulderE, shoulderV, ne);
        if (level > b1 || level > b2) {
          fillD += 'M' + sx(e) + ' ' + fmt(yScale(level)) + 'L' + sx(ne) + ' ' + fmt(yScale(level)) + 'L' + sx(ne) + ' ' + fmt(yScale(b2)) + 'L' + sx(e) + ' ' + fmt(yScale(b1)) + 'Z';
        }
      }
    }
  });
  mk('path', {d:fillD, fill:'#000', stroke:'none'}, blackG);
  mk('path', {d:sp, fill:'none', stroke:'#000', 'stroke-width':9.4, 'stroke-linecap':'round'}, blackG);

  // envelope polygon shared by red trace and dense blue trace
  const sharp = sharpen(f.topE.concat(tailE), f.topV.concat(tailV));
  const upE = sharp[0], upV = sharp[1];
  const loE = f.botE.concat(tailE), loV = f.botV.concat(tailV);
  let env = 'M' + upE.map((e, i) => sx(e) + ' ' + fmt(yScale(upV[i]))).join('L');
  for (let i = loE.length - 1; i >= 0; i--) env += 'L' + sx(loE[i]) + ' ' + fmt(yScale(loV[i]));
  env += 'Z';

  // clip to the energy range
  const clipR = mk('clipPath', {id:'clip-red-' + idx}, defs);
  mk('rect', {x:AXL - 2, y:0, width:AXR - AXL + 3, height:3635}, clipR);
  const clipB = mk('clipPath', {id:'clip-blue-' + idx}, defs);
  f.dF.forEach((from, i) => {
    mk('rect', {x:fmt(Math.max(xScale(from), AXL - 2)), y:0, width:fmt(xScale(f.dT[i]) - xScale(from) + 1), height:3635}, clipB);
  });

  const redOuter = mk('g', {'clip-path':`url(#clip-red-${idx})`}, g);
  const redG = mk('g', {transform:`scale(${ASPECT},1)`}, redOuter);
  
  
  mk('path', {d:env, fill:'#f00', stroke:'#f00', 'stroke-width':29, 'stroke-linejoin':'round'}, redG);

  const blueOuter = mk('g', {'clip-path':`url(#clip-blue-${idx})`}, g);
  const blueG = mk('g', {transform:`scale(${ASPECT},1)`}, blueOuter);
  
  
  mk('path', {d:env, fill:'#00f', stroke:'#00f', 'stroke-width':10.5, 'stroke-linejoin':'round'}, blueG);

  // blue binned stair line
  const stairOuter = mk('g', {'clip-path':`url(#clip-red-${idx})`}, g);
  const stairG = mk('g', {transform:`scale(${ASPECT},1)`}, stairOuter);
  
  
  let st = '', pen = false;
  f.stE.forEach((e, i) => {
    if (e === null) { pen = false; return; }
    st += (pen ? 'L' : 'M') + sx(e) + ' ' + fmt(yScale(f.stV[i]));
    pen = true;
  });
  mk('path', {d:st, fill:'none', stroke:'#00f', 'stroke-width':10.5, 'stroke-linejoin':'round', 'stroke-linecap':'round'}, stairG);
});
</script>
</body>
</html>
